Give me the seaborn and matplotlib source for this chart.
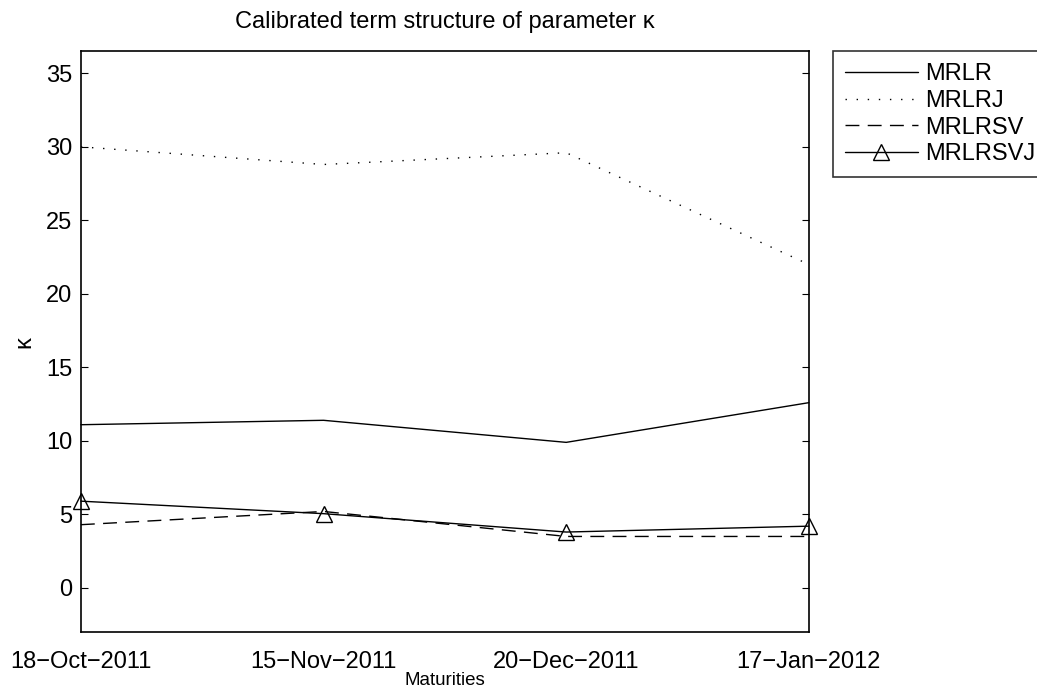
import matplotlib.pyplot as plt
import seaborn as sns
import pandas as pd

# Valores
maturities = ["18\u2212Oct\u22122011", "15\u2212Nov\u22122011", "20\u2212Dec\u22122011", "17\u2212Jan\u22122012"]
mrlr = [11.1, 11.4, 9.9, 12.6]
mrlrj = [30.0, 28.8, 29.6, 22.0]
mrlrsv = [4.3, 5.2, 3.5, 3.5]
mrlrsvj = [5.9, 5.05, 3.8, 4.2]

series = {"MRLR": mrlr, "MRLRJ": mrlrj, "MRLRSV": mrlrsv, "MRLRSVJ": mrlrsvj}
df = pd.DataFrame([
    {"pos": i, "kappa": v, "model": name}
    for name, vals in series.items() for i, v in enumerate(vals)
])

sns.set_style("white")
plt.rcParams['font.family'] = ['Liberation Sans', 'DejaVu Sans']
plt.rcParams['text.color'] = 'black'
plt.rcParams['axes.labelcolor'] = 'black'
plt.rcParams['xtick.color'] = 'black'
plt.rcParams['ytick.color'] = 'black'

fig = plt.figure(figsize=(10.37, 6.93), dpi=100)
ax = fig.add_axes([0.078, 0.088, 0.702, 0.838])

estilos = {
    "MRLR": dict(linestyle="-", marker=None),
    "MRLRJ": dict(linestyle=(0, (1, 7)), marker=None),
    "MRLRSV": dict(linestyle=(0, (10, 6)), marker=None),
    "MRLRSVJ": dict(linestyle="-", marker="^"),
}
for name in series:
    sub = df[df["model"] == name]
    kw = estilos[name]
    sns.lineplot(data=sub, x="pos", y="kappa", ax=ax, color="black", linewidth=1.0,
                 linestyle=kw["linestyle"], marker=kw["marker"], markersize=12,
                 markerfacecolor="none", markeredgecolor="black", markeredgewidth=1.0,
                 label=name, clip_on=False)

ax.set_xlim(0, 3)
ax.set_ylim(-3, 36.5)
ax.set_xticks(range(4))
ax.set_xticklabels(maturities, fontsize=17)
ax.set_yticks(range(0, 36, 5))
ax.tick_params(axis="y", labelsize=17, direction="in", length=5, left=True, right=True, width=0.8, pad=6)
ax.tick_params(axis="x", direction="in", length=0, pad=14)
for s in ax.spines.values():
    s.set_color("black")
    s.set_linewidth(1.2)

ax.set_xlabel("Maturities", fontsize=13.5, labelpad=-1)
ax.set_ylabel("\u03ba", fontsize=17, labelpad=8)
ax.set_title("Calibrated term structure of parameter \u03ba", fontsize=17, pad=17)

leg = ax.legend(loc="upper left", bbox_to_anchor=(1.033, 1.0), fontsize=17, frameon=True,
                fancybox=False, edgecolor="black", handlelength=3.1, borderaxespad=0,
                labelspacing=0.2, handletextpad=0.3, borderpad=0.5)
leg.get_frame().set_linewidth(1.2)

plt.savefig("out.png", dpi=100)
